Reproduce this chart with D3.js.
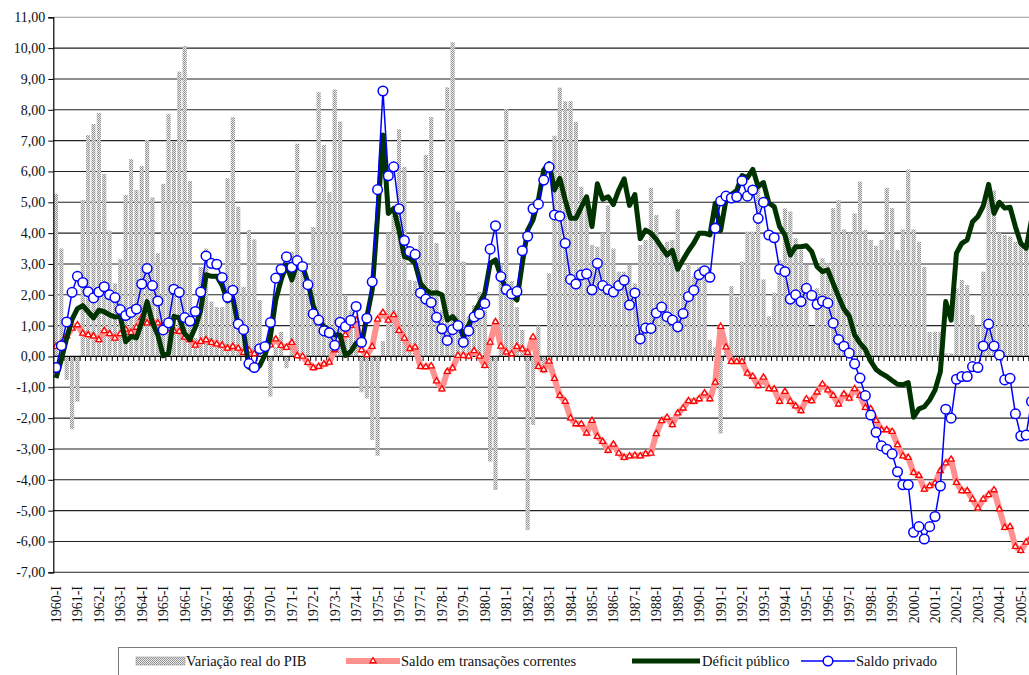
<!DOCTYPE html>
<html><head><meta charset="utf-8">
<script src="https://cdn.jsdelivr.net/npm/d3@7"></script>
<style>
body{margin:0;background:#fff}
svg{display:block}
text{font-family:"Liberation Serif","Times New Roman",serif;fill:#111}
</style>
</head><body>
<svg id="c" width="1029" height="675"></svg>
<script>
// ---- data (quarterly, 1960-I ... 2005-III) ----
const startYear = 1960;
const quarterNames = ["I","II","III","IV"];
const yTicks = [-7,-6,-5,-4,-3,-2,-1,0,1,2,3,4,5,6,7,8,9,10,11];
const seriesNames = ["Variação real do PIB","Saldo em transações correntes","Déficit público","Saldo privado"];

const pib = [
 5.27,3.5,-0.76,-2.35,-1.47,5.07,7.18,7.54,7.9,5.92,
 4.08,2.37,3.15,5.24,6.4,5.4,6.18,7.02,5.16,3.35,
 5.6,7.86,6.97,9.24,10.07,5.69,0.6,2.9,3.5,1.78,
 1.6,1.6,5.78,7.76,4.86,2.26,4.1,3.8,1.83,0.2,
 -1.3,0.3,0.8,-0.38,3.4,6.9,3.0,2.0,4.2,8.57,
 6.86,5.33,8.66,7.62,2.0,1.5,1.0,-1.16,-1.36,-2.71,
 -3.22,0.5,4.0,4.6,7.37,6.15,2.48,2.45,3.94,6.54,
 7.77,3.68,1.5,8.73,10.19,4.73,3.08,1.3,1.67,2.1,
 1.5,-3.41,-4.33,3.0,8.02,2.45,1.6,0.86,-5.63,-2.22,
 1.0,-0.55,2.7,7.16,8.72,8.28,8.28,7.61,5.5,4.95,
 3.62,3.56,4.0,4.9,3.5,2.75,2.75,2.97,2.37,3.62,
 3.78,5.47,4.59,3.62,3.72,3.78,4.78,2.81,3.0,2.6,
 2.9,2.5,0.54,0.3,-2.5,0.4,2.28,1.94,3.08,4.05,
 4.05,5.62,2.5,1.3,2.07,3.13,4.8,4.7,3.83,3.45,
 2.97,0.97,2.21,3.18,3.02,4.81,5.07,4.12,4.0,4.64,
 5.67,4.1,3.78,3.59,3.78,5.47,4.81,3.45,4.12,6.07,
 4.12,3.72,2.91,0.8,0.8,0.8,0.1,0.1,2.21,2.48,
 2.32,1.35,1.0,2.75,5.46,5.38,4.0,3.94,3.89,3.72,
 3.67,3.56,3.51
];
const transacoes = [
 0.32,0.43,0.66,0.91,1.02,0.75,0.7,0.66,0.54,0.83,
 0.73,0.59,0.73,0.88,0.77,0.94,1.26,1.08,1.13,1.08,
 1.0,0.9,0.83,0.81,0.62,0.54,0.36,0.48,0.54,0.45,
 0.4,0.36,0.26,0.32,0.26,0.12,0.2,0.08,0.21,0.32,
 0.37,0.56,0.35,0.29,0.45,0.02,0.0,-0.2,-0.37,-0.33,
 -0.25,-0.19,0.21,0.42,0.7,1.0,1.18,0.21,0.05,0.32,
 1.2,1.42,1.17,1.35,0.84,0.59,0.25,0.3,-0.33,-0.34,
 -0.31,-0.8,-1.06,-0.49,-0.38,0.03,0.03,0.0,0.18,0.0,
 -0.3,0.46,1.12,0.33,0.14,0.08,0.32,0.24,0.12,0.63,
 -0.33,-0.43,-0.16,-0.72,-1.27,-1.46,-2.0,-2.19,-2.19,-2.49,
 -2.08,-2.6,-2.76,-3.05,-2.85,-3.14,-3.28,-3.23,-3.21,-3.23,
 -3.16,-3.14,-2.51,-2.09,-1.98,-2.22,-1.84,-1.68,-1.44,-1.46,
 -1.38,-1.19,-1.38,-0.84,0.97,0.3,-0.17,-0.17,-0.17,-0.55,
 -0.65,-0.95,-0.68,-1.05,-1.06,-1.46,-1.14,-1.46,-1.61,-1.76,
 -1.38,-1.44,-1.16,-0.9,-1.09,-1.27,-1.55,-1.22,-1.36,-1.05,
 -1.27,-1.66,-1.7,-2.08,-2.38,-2.38,-2.44,-2.87,-3.23,-3.28,
 -3.77,-3.86,-4.31,-4.2,-4.11,-3.71,-3.46,-3.34,-4.09,-4.36,
 -4.36,-4.63,-4.92,-4.63,-4.49,-4.33,-4.95,-5.55,-5.52,-6.17,
 -6.3,-6.03,-5.86
];
const deficit = [
 -0.7,-0.1,0.6,1.2,1.55,1.65,1.45,1.25,1.5,1.45,
 1.35,1.28,1.3,0.48,0.65,0.6,1.1,1.78,1.1,0.7,
 0.02,0.1,1.3,1.25,0.75,0.55,0.95,1.5,2.65,2.6,
 2.6,2.3,1.8,1.9,1.0,0.8,-0.35,-0.44,-0.3,0.05,
 0.64,1.83,2.48,2.97,2.48,3.02,2.93,2.4,1.65,1.18,
 0.97,0.86,0.7,0.7,0.03,0.16,0.43,0.4,1.29,2.16,
 4.54,7.18,4.64,4.8,4.1,3.24,3.18,3.02,2.37,2.16,
 2.05,2.07,2.0,1.18,1.29,1.08,0.65,1.02,1.4,1.72,
 2.05,3.02,3.13,2.59,2.16,2.0,1.83,3.02,4.1,4.43,
 5.08,6.05,6.25,5.4,5.78,5.08,4.48,4.48,4.84,5.18,
 4.21,5.6,5.1,5.18,4.93,5.4,5.76,4.9,5.25,3.82,
 4.1,4.0,3.8,3.54,3.29,3.44,2.83,3.14,3.43,3.68,
 4.0,4.0,3.94,4.97,4.08,5.08,5.25,5.38,5.87,5.8,
 6.07,5.51,5.64,4.97,4.86,4.21,3.94,3.29,3.56,3.56,
 3.59,3.4,2.91,2.75,2.81,2.37,1.94,1.54,1.31,0.7,
 0.43,0.23,-0.15,-0.42,-0.55,-0.65,-0.78,-0.9,-0.92,-0.85,
 -1.97,-1.7,-1.63,-1.41,-1.09,-0.49,1.78,1.18,3.35,3.67,
 3.78,4.37,4.54,4.88,5.58,4.64,5.0,4.81,4.84,4.21,
 3.67,3.51,4.43
];
const privado = [
 -0.36,0.35,1.12,2.08,2.6,2.4,2.1,1.9,2.09,2.26,
 2.0,1.91,1.52,1.33,1.43,1.54,2.35,2.85,2.3,1.8,
 0.86,1.09,2.18,2.08,1.26,1.15,1.46,2.09,3.26,3.02,
 2.99,2.56,1.92,2.15,1.05,0.87,-0.23,-0.36,0.25,0.32,
 1.1,2.54,2.83,3.23,2.89,3.11,2.92,2.33,1.38,1.18,
 0.83,0.77,0.36,1.11,0.97,1.17,1.62,0.46,1.24,2.42,
 5.41,8.61,5.86,6.15,4.79,3.76,3.4,3.31,2.06,1.86,
 1.75,1.27,0.9,0.52,0.87,1.0,0.46,0.83,1.28,1.38,
 1.72,3.48,4.24,2.59,2.17,2.03,2.11,3.43,3.9,4.79,
 4.94,5.72,6.14,4.59,4.55,3.67,2.5,2.35,2.64,2.68,
 2.16,3.02,2.3,2.17,2.09,2.3,2.47,1.67,2.06,0.57,
 0.92,0.91,1.41,1.6,1.29,1.18,0.96,1.39,1.94,2.15,
 2.65,2.78,2.57,4.16,5.04,5.2,5.14,5.18,5.7,5.2,
 5.4,4.48,5.0,3.94,3.85,2.83,2.75,1.86,2.0,1.78,
 2.21,1.98,1.69,1.8,1.73,1.08,0.55,0.33,0.11,-0.24,
 -0.7,-1.27,-1.9,-2.46,-2.9,-3.01,-3.16,-3.74,-4.16,-4.16,
 -5.7,-5.52,-5.92,-5.52,-5.19,-4.2,-1.71,-2.0,-0.74,-0.65,
 -0.65,-0.33,-0.36,0.34,1.05,0.34,0.05,-0.76,-0.71,-1.86,
 -2.58,-2.55,-1.46
];
const categories = pib.map((_, i) => (startYear + Math.floor(i/4)) + "-" + quarterNames[i%4]);

// ---- layout ----
const W = 1029, H = 675;
const plotLeft = 53.3, step = 5.36;
const svg = d3.select("#c");

const x = d3.scaleBand().domain(d3.range(categories.length))
  .range([plotLeft, plotLeft + categories.length*step])
  .paddingInner(0.22).paddingOuter(0.11);
const cx = i => x(i) + x.bandwidth()/2;
const y = d3.scaleLinear().domain([-7, 11]).range([572.3, 17.3]);

const defs = svg.append("defs");
const pat = defs.append("pattern").attr("id","stip").attr("patternUnits","userSpaceOnUse")
  .attr("width",2).attr("height",2);
pat.append("rect").attr("width",2).attr("height",2).attr("fill","#ececec");
pat.append("rect").attr("x",0).attr("y",0).attr("width",1).attr("height",1).attr("fill","#8a8a8a");
pat.append("rect").attr("x",1).attr("y",1).attr("width",1).attr("height",1).attr("fill","#9a9a9a");

const clip = defs.append("clipPath").attr("id","plot");
clip.append("rect").attr("x",plotLeft).attr("y",0).attr("width",W-plotLeft).attr("height",600);

// gridlines
svg.append("g").selectAll("line").data(yTicks).join("line")
  .attr("x1", plotLeft).attr("x2", W)
  .attr("y1", d => y(d)).attr("y2", d => y(d))
  .attr("stroke", d => d === 11 ? "#9a9a9a" : "#222").attr("stroke-width", 1.1);

const g = svg.append("g").attr("clip-path","url(#plot)");

// bars
g.append("g").selectAll("rect").data(pib).join("rect")
  .attr("x", (d,i) => x(i)).attr("width", x.bandwidth())
  .attr("y", d => y(Math.max(0,d))).attr("height", d => Math.abs(y(d)-y(0)))
  .attr("fill","url(#stip)");

// x axis line at zero with quarter ticks
g.append("line").attr("x1",plotLeft).attr("x2",W).attr("y1",y(0)).attr("y2",y(0))
  .attr("stroke","#000").attr("stroke-width",1.2);
g.append("g").selectAll("line").data(d3.range(categories.length+1)).join("line")
  .attr("x1", i => plotLeft + i*x.step()).attr("x2", i => plotLeft + i*x.step())
  .attr("y1", y(0)).attr("y2", y(0)+4.5).attr("stroke","#000").attr("stroke-width",1);

// red: saldo em transações correntes
const line = d3.line().x((d,i)=>cx(i)).y(d=>y(d));
g.append("path").datum(transacoes).attr("d", line)
  .attr("fill","none").attr("stroke","#ff9090").attr("stroke-width",6).attr("stroke-linejoin","round");
const tri = d3.symbol().type(d3.symbolTriangle).size(16);
g.append("g").selectAll("path").data(transacoes).join("path")
  .attr("d", tri).attr("transform",(d,i)=>`translate(${cx(i)},${y(d)})`)
  .attr("fill","#fff").attr("stroke","#ff0000").attr("stroke-width",1.3);

// green: déficit público
g.append("path").datum(deficit).attr("d", line)
  .attr("fill","none").attr("stroke","#003300").attr("stroke-width",5).attr("stroke-linejoin","round");

// blue: saldo privado
g.append("path").datum(privado).attr("d", line)
  .attr("fill","none").attr("stroke","#0000ff").attr("stroke-width",1.5);
g.append("g").selectAll("circle").data(privado).join("circle")
  .attr("cx",(d,i)=>cx(i)).attr("cy",d=>y(d)).attr("r",4.8)
  .attr("fill","#fff").attr("stroke","#0000ff").attr("stroke-width",1.5);

// y axis
const yAxis = d3.axisLeft(y).tickValues(yTicks).tickSize(5)
  .tickFormat(d => d.toFixed(2).replace(".", ","));
const ya = svg.append("g").attr("transform",`translate(${plotLeft},0)`).call(yAxis);
ya.select(".domain").attr("stroke","#000").attr("stroke-width",1.2);
ya.selectAll(".tick line").attr("stroke","#000");
ya.selectAll("text").attr("font-size",14).attr("font-family","Liberation Serif").attr("fill","#111").attr("x",-8);

// x labels
svg.append("g").selectAll("text").data(d3.range(0, categories.length, 4)).join("text")
  .attr("transform", i => `translate(${cx(i)+5},586) rotate(-90)`)
  .attr("text-anchor","end").attr("font-size",14)
  .text(i => categories[i]);

// legend
const lg = svg.append("g");
lg.append("rect").attr("x",118.5).attr("y",647.5).attr("width",838).attr("height",40)
  .attr("fill","#fff").attr("stroke","#7a7a7a").attr("stroke-width",1);
const ly = 661;
lg.append("rect").attr("x",136).attr("y",ly-4).attr("width",49).attr("height",8)
  .attr("fill","url(#stip)").attr("stroke","#999").attr("stroke-width",0.6);
lg.append("line").attr("x1",346).attr("x2",400).attr("y1",ly).attr("y2",ly)
  .attr("stroke","#ff9090").attr("stroke-width",6);
lg.append("path").attr("d",tri).attr("transform",`translate(373,${ly})`)
  .attr("fill","#fff").attr("stroke","#ff0000").attr("stroke-width",1.3);
lg.append("line").attr("x1",632).attr("x2",700).attr("y1",ly).attr("y2",ly)
  .attr("stroke","#003300").attr("stroke-width",5);
lg.append("line").attr("x1",801).attr("x2",855).attr("y1",ly).attr("y2",ly)
  .attr("stroke","#0000ff").attr("stroke-width",1.5);
lg.append("circle").attr("cx",828).attr("cy",ly).attr("r",4.8)
  .attr("fill","#fff").attr("stroke","#0000ff").attr("stroke-width",1.5);
const legX = [186, 401, 702, 856];
lg.selectAll("text.lt").data(seriesNames).join("text").attr("class","lt")
  .attr("x",(d,i)=>legX[i]).attr("y",ly+5).attr("font-size",14.5).text(d=>d);
</script>
</body></html>
